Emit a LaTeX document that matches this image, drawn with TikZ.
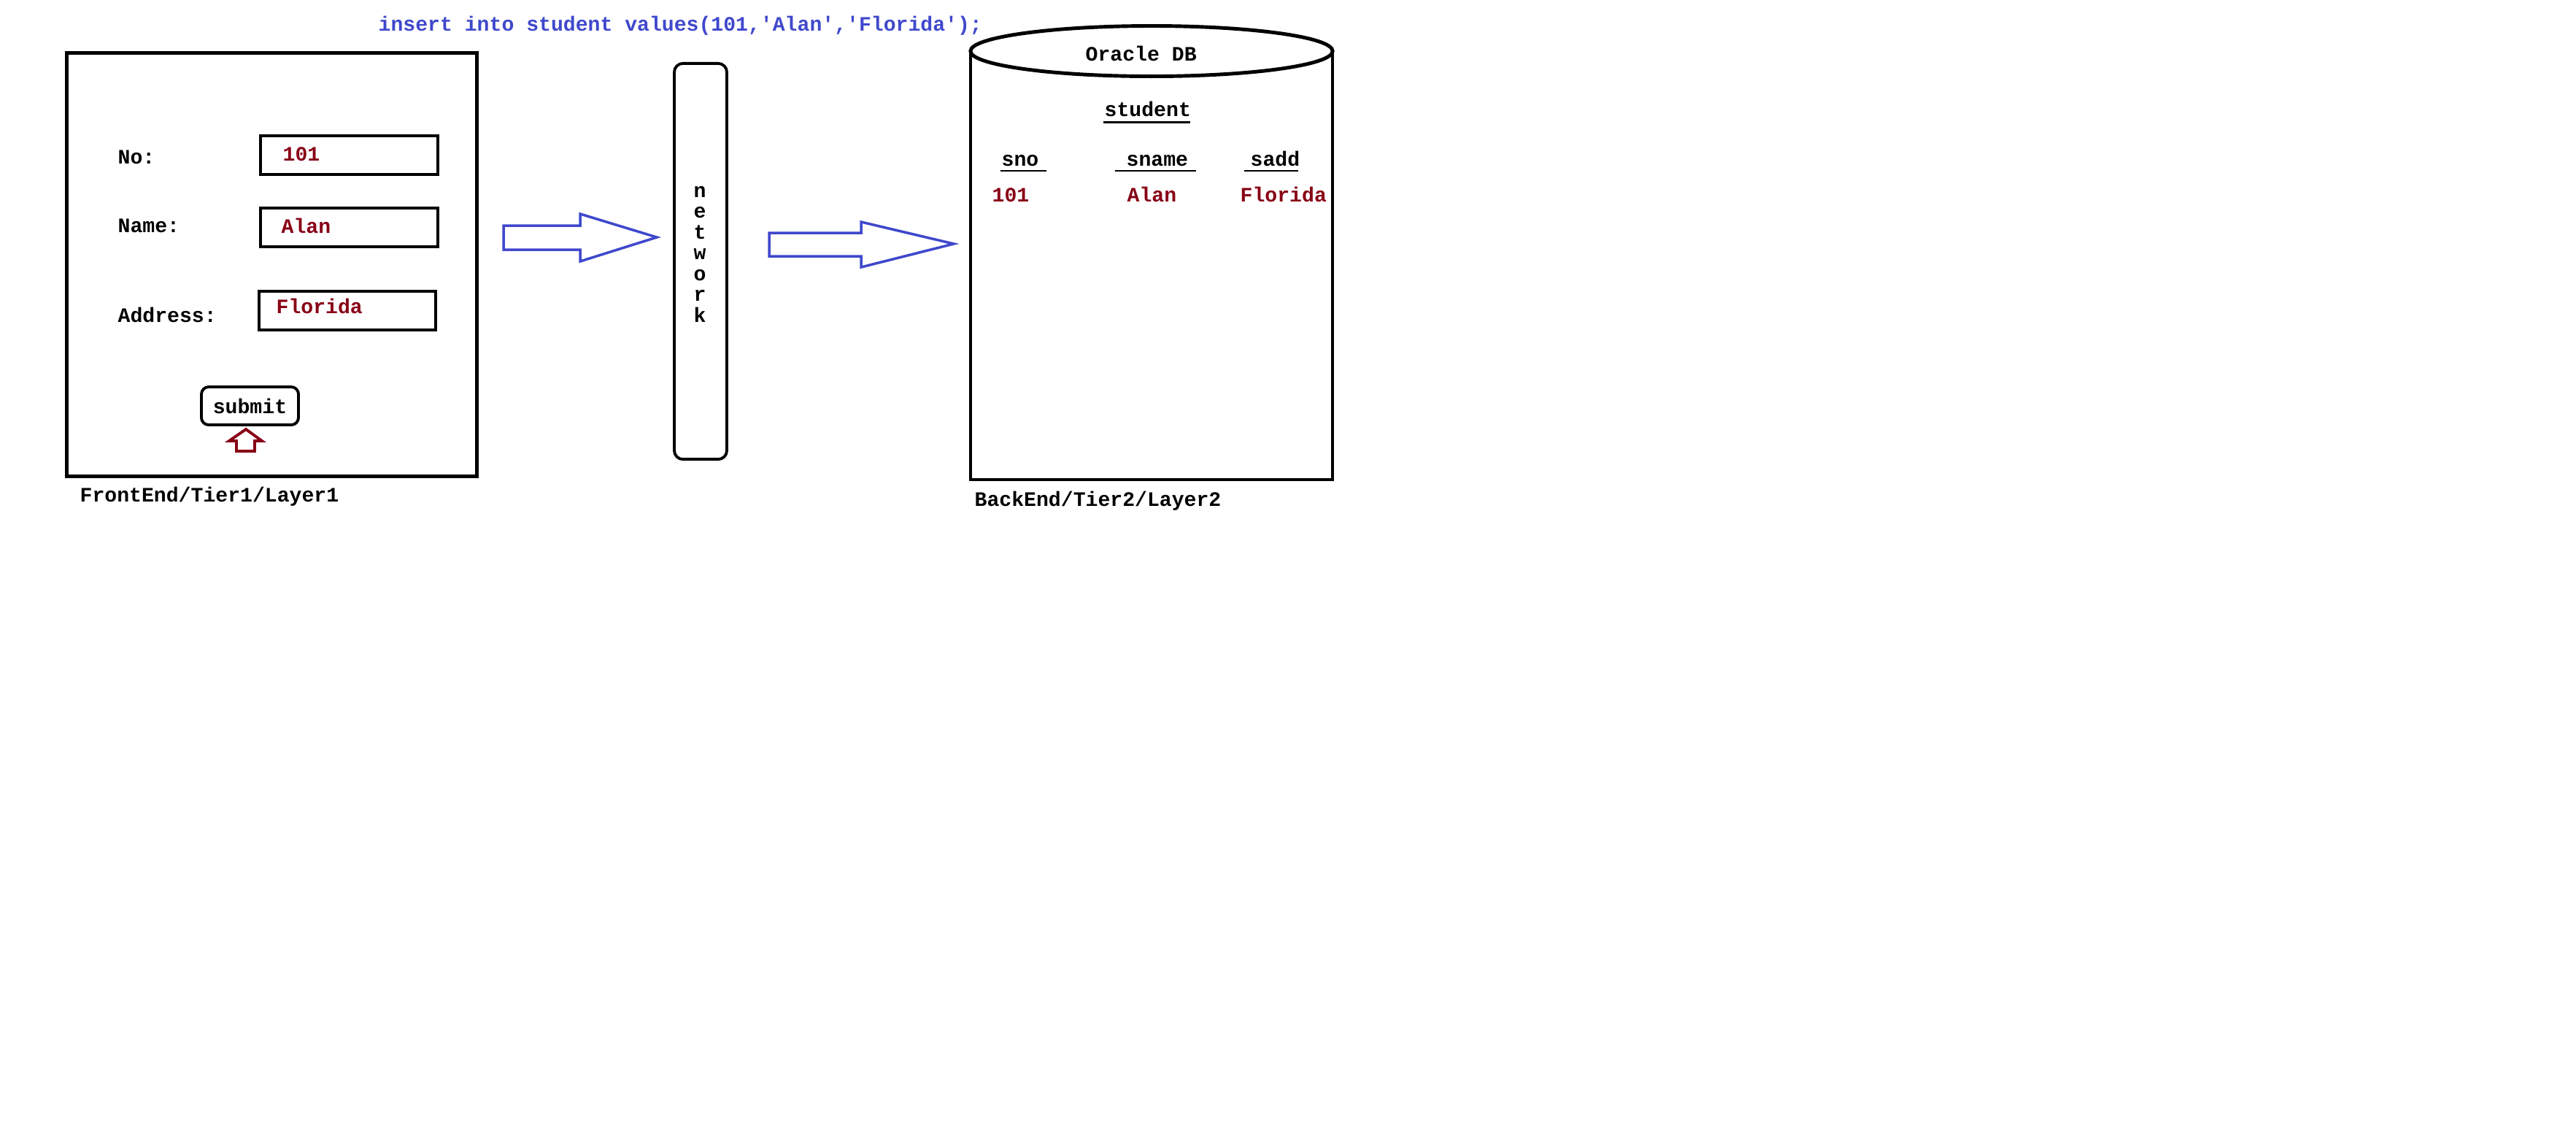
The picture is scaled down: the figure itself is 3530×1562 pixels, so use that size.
\documentclass[tikz,border=0pt]{standalone}
\usepackage{fontspec}
\setmonofont{Liberation Mono}
\definecolor{sqlblue}{HTML}{3F48CC}
\definecolor{valred}{HTML}{880015}
\newcommand{\sqq}{\textquotesingle}
\tikzset{
	lbl/.style={font=\ttfamily\bfseries\fontsize{8}{9}\selectfont, anchor=base west, inner sep=0pt},
	val/.style={lbl, text=valred},
	frame/.style={draw, line width=1.4pt},
	field/.style={draw, line width=1.3pt, minimum width=2.43cm, minimum height=0.53cm, inner sep=0pt},
	blockarrow/.style={draw=sqlblue, line width=1pt, line join=miter},
}
\begin{document}
\begin{tikzpicture}[x=0.01cm,y=-0.01cm]
		\useasboundingbox (0,0) rectangle (3530,1562);

		% SQL statement
		\node[lbl, text=sqlblue] (sql) at (518,42) {insert into student values(101,\sqq Alan\sqq,\sqq Florida\sqq);};

		% Front end form
		\node[frame, minimum width=5.61cm, minimum height=5.79cm, inner sep=0pt] (front) at (372.5,362.5) {};
		\node[lbl] (nolbl) at (161,224) {No:};
		\node[lbl] (namelbl) at (161,318) {Name:};
		\node[lbl] (addrlbl) at (161,441) {Address:};
		\node[field] (nofield) at (478.5,212.5) {};
		\node[field] (namefield) at (478.5,311.5) {};
		\node[field, minimum width=2.42cm] (addrfield) at (476,425.5) {};
		\node[val] (noval) at (387,220) {101};
		\node[val] (nameval) at (385,319) {Alan};
		\node[val] (addrval) at (378,429) {Florida};

		% Submit button
		\node[draw, line width=1.1pt, rounded corners=2.85pt, minimum width=1.33cm, minimum height=0.52cm, inner sep=0pt,
			font=\ttfamily\bfseries\fontsize{8}{9}\selectfont] (submit) at (342.5,556) {submit};
		\draw[valred, line width=1.1pt, line join=miter] (337,588) -- (359,604) -- (349,604) -- (349,618)
			-- (324,618) -- (324,604) -- (314,604) -- cycle;
		\node[lbl] (frontlbl) at (109,687) {FrontEnd/Tier1/Layer1};

		% Arrows
		\draw[blockarrow] (690,309) -- (795,309) -- (795,293) -- (900,325) -- (795,358) -- (795,342) -- (690,342) -- cycle;
		\draw[blockarrow] (1054,319) -- (1180,319) -- (1180,304) -- (1307,334) -- (1180,366) -- (1180,351) -- (1054,351) -- cycle;

		% Network
		\node[draw, line width=1.1pt, rounded corners=3.4pt, minimum width=0.72cm, minimum height=5.42cm, inner sep=0pt] (network) at (960,358) {};
		\foreach \ch [count=\i] in {n,e,t,w,o,r,k}
			\node[lbl, anchor=base] (net\i) at (959,{270+28.5*(\i-1)}) {\ch};

		% Database
		\draw[frame] (1330,70) -- (1330,657) -- (1826,657) -- (1826,70);
		\draw[frame] (1578,70) ellipse [x radius=2.48cm, y radius=0.345cm];
		\node[lbl] (dbname) at (1487,83) {Oracle DB};
		\node[lbl] (table) at (1513,159) {student};
		\draw[line width=0.85pt] (1512,167) -- (1631,167);
		\node[lbl] (snocol) at (1372,227) {sno};
		\node[lbl] (snamecol) at (1543,227) {sname};
		\node[lbl] (saddcol) at (1713,227) {sadd};
		\draw[line width=0.4pt] (1371,234) -- (1434,234);
		\draw[line width=0.4pt] (1528,234) -- (1639,234);
		\draw[line width=0.4pt] (1705,234) -- (1779,234);
		\node[val] (snoval) at (1359,276) {101};
		\node[val] (snameval) at (1544,276) {Alan};
		\node[val] (saddval) at (1699,276) {Florida};
		\node[lbl] (backlbl) at (1335,693) {BackEnd/Tier2/Layer2};
	\end{tikzpicture}
\end{document}
